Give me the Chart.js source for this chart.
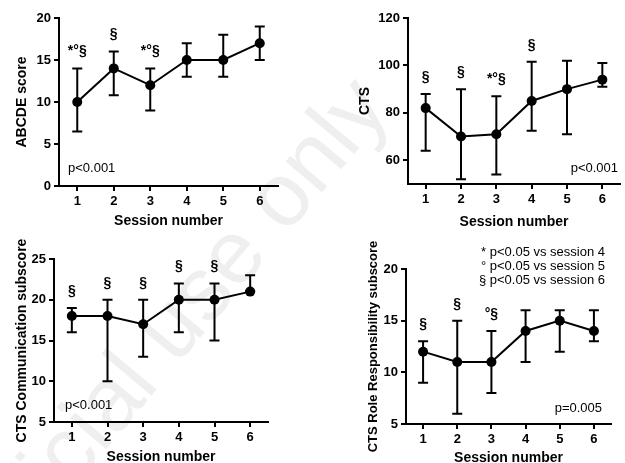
<!DOCTYPE html>
<html>
<head>
<meta charset="utf-8">
<script src="https://cdn.jsdelivr.net/npm/chart.js@4.4.1/dist/chart.umd.min.js"></script>
<style>
    body { margin: 0; background: #fff; }
    #page { position: relative; width: 625px; height: 463px; overflow: hidden; background: #fff; }
    #page canvas { position: absolute; }
    #watermark {
        position: absolute; left: 165px; top: 332px;
        transform: translate(-50%, -50%) rotate(-50deg);
        font: 90px "Liberation Sans", Arial, sans-serif;
        color: #efefef; white-space: nowrap;
    }
</style>
</head>
<body>
<div id="page">
    <div id="watermark">Official use only</div>
    <canvas id="abcdeChart" style="left:0;top:0" width="312" height="232"></canvas>
    <canvas id="ctsChart" style="left:312px;top:0" width="313" height="232"></canvas>
    <canvas id="commChart" style="left:0;top:230px" width="312" height="233"></canvas>
    <canvas id="roleChart" style="left:312px;top:230px" width="313" height="233"></canvas>
</div>
<script>
// sessions
const sessions = ['1', '2', '3', '4', '5', '6'];

// ABCDE score: median with range
const abcdeMedian = [10, 14, 12, 15, 15, 17];
const abcdeLow = [6.5, 10.8, 9, 13, 13, 15];
const abcdeHigh = [14, 16, 14, 17, 18, 19];
const abcdeMarks = ['*°§', '§', '*°§', '', '', ''];
const abcdeTicks = [0, 5, 10, 15, 20];

// CTS
const ctsMedian = [82, 70, 71, 85, 90, 94];
const ctsLow = [64, 52, 54, 72.5, 71, 91];
const ctsHigh = [88, 90, 87, 101.5, 102, 101];
const ctsMarks = ['§', '§', '*°§', '§', '', ''];
const ctsTicks = [60, 80, 100, 120];

// CTS Communication subscore
const commMedian = [18, 18, 17, 20, 20, 21];
const commLow = [16, 10, 13, 16, 15, 21];
const commHigh = [19, 20, 20, 22, 22, 23];
const commMarks = ['§', '§', '§', '§', '§', ''];
const commTicks = [5, 10, 15, 20, 25];

// CTS Role Responsibility subscore
const roleMedian = [12, 11, 11, 14, 15, 14];
const roleLow = [9, 6, 8, 11, 12, 13];
const roleHigh = [13, 15, 14, 16, 16, 16];
const roleMarks = ['§', '§', '°§', '', '', ''];
const roleTicks = [5, 10, 15, 20];

const legendLines = ['* p<0.05 vs session 4', '° p<0.05 vs session 5', '§ p<0.05 vs session 6'];

const FONT = '"Liberation Sans", Arial, Helvetica, sans-serif';

// error bars + significance marks + p value text
const extrasPlugin = {
    id: 'extras',
    beforeDatasetsDraw(chart) {
        const ex = chart.options.plugins.extras;
        const ctx = chart.ctx;
        const xs = chart.scales.x, ys = chart.scales.y;
        ctx.save();
        ctx.strokeStyle = '#000';
        ctx.lineWidth = 2;
        ex.low.forEach((lo, i) => {
            const x = xs.getPixelForValue(i);
            const y1 = ys.getPixelForValue(lo);
            const y2 = ys.getPixelForValue(ex.high[i]);
            ctx.beginPath();
            ctx.moveTo(x, y1); ctx.lineTo(x, y2);
            ctx.moveTo(x - 5, y1); ctx.lineTo(x + 5, y1);
            ctx.moveTo(x - 5, y2); ctx.lineTo(x + 5, y2);
            ctx.stroke();
        });
        ctx.restore();
    },
    afterDatasetsDraw(chart) {
        const ex = chart.options.plugins.extras;
        const ctx = chart.ctx;
        const xs = chart.scales.x, ys = chart.scales.y;
        const area = chart.chartArea;
        ctx.save();
        ctx.fillStyle = '#000';
        ctx.textAlign = 'center';
        ctx.textBaseline = 'middle';
        ctx.font = 'bold 14px ' + FONT;
        ex.marks.forEach((m, i) => {
            if (!m) return;
            ctx.fillText(m, xs.getPixelForValue(i), ys.getPixelForValue(ex.high[i]) - 17);
        });
        ctx.font = '13px ' + FONT;
        if (ex.pAlign === 'left') {
            ctx.textAlign = 'left';
            ctx.fillText(ex.pText, area.left + ex.pDx, area.bottom - ex.pDy);
        } else {
            ctx.textAlign = 'right';
            ctx.fillText(ex.pText, area.right - ex.pDx, area.bottom - ex.pDy);
        }
        if (ex.legend) {
            ctx.textAlign = 'right';
            ex.legend.forEach((t, i) => ctx.fillText(t, 293, 22 + i * 14));
        }
        ctx.restore();
    }
};

function makeChart(id, cfg) {
    const ctx = document.getElementById(id).getContext('2d');
    const canvasH = ctx.canvas.height;
    return new Chart(ctx, {
        type: 'line',
        data: {
            labels: sessions,
            datasets: [{
                data: cfg.median,
                borderColor: '#000',
                backgroundColor: '#000',
                borderWidth: 2,
                pointRadius: 5,
                pointBorderWidth: 0,
                tension: 0
            }]
        },
        options: {
            responsive: false,
            animation: false,
            layout: { padding: { left: 0, right: cfg.padRight, top: cfg.padTop, bottom: 0 } },
            plugins: {
                legend: { display: false },
                tooltip: { enabled: false },
                extras: {
                    low: cfg.low, high: cfg.high, marks: cfg.marks,
                    pText: cfg.pText, pAlign: cfg.pAlign, pDx: cfg.pDx, pDy: cfg.pDy,
                    legend: cfg.legend
                }
            },
            scales: {
                x: {
                    type: 'category',
                    offset: true,
                    afterFit: s => { s.height = canvasH - cfg.bottom; },
                    grid: { display: true, drawOnChartArea: false, color: '#000', lineWidth: 2, tickLength: 5 },
                    border: { color: '#000', width: 2 },
                    ticks: { color: '#000', padding: 3, font: { family: FONT, size: 13, weight: 'bold' } },
                    title: {
                        display: true, text: 'Session number', color: '#000',
                        font: { family: FONT, size: 14, weight: 'bold' },
                        padding: { top: 0, bottom: cfg.xTitlePad }
                    }
                },
                y: {
                    min: cfg.min, max: cfg.max,
                    afterBuildTicks: s => { s.ticks = cfg.ticks.map(v => ({ value: v })); },
                    afterFit: s => { s.width = cfg.left; },
                    grid: { display: true, drawOnChartArea: false, color: '#000', lineWidth: 2, tickLength: 5 },
                    border: { color: '#000', width: 2 },
                    ticks: { color: '#000', padding: 3, font: { family: FONT, size: 13, weight: 'bold' } },
                    title: {
                        display: true, text: cfg.yTitle, color: '#000',
                        font: { family: FONT, size: cfg.yTitleSize || 14, weight: 'bold' },
                        padding: { top: cfg.yTitlePad, bottom: 0 }
                    }
                }
            }
        },
        plugins: [extrasPlugin]
    });
}

makeChart('abcdeChart', {
    median: abcdeMedian, low: abcdeLow, high: abcdeHigh, marks: abcdeMarks, ticks: abcdeTicks,
    min: 0, max: 20, yTitle: 'ABCDE score',
    left: 59, padRight: 34, padTop: 18, bottom: 186,
    xTitlePad: 2.6, yTitlePad: 13.6,
    pText: 'p<0.001', pAlign: 'left', pDx: 9, pDy: 18
});

makeChart('ctsChart', {
    median: ctsMedian, low: ctsLow, high: ctsHigh, marks: ctsMarks, ticks: ctsTicks,
    min: 50, max: 120, yTitle: 'CTS',
    left: 96, padRight: 1, padTop: 18, bottom: 184,
    xTitlePad: 1.6, yTitlePad: 44.6,
    pText: 'p<0.001', pAlign: 'right', pDx: 2, pDy: 16
});

makeChart('commChart', {
    median: commMedian, low: commLow, high: commHigh, marks: commMarks, ticks: commTicks,
    min: 5, max: 25, yTitle: 'CTS Communication subscore',
    left: 54, padRight: 44, padTop: 29, bottom: 192,
    xTitlePad: -2.4, yTitlePad: 13.6,
    pText: 'p<0.001', pAlign: 'left', pDx: 11, pDy: 17
});

makeChart('roleChart', {
    median: roleMedian, low: roleLow, high: roleHigh, marks: roleMarks, ticks: roleTicks,
    min: 5, max: 20, yTitle: 'CTS Role Responsibility subscore', yTitleSize: 13,
    left: 94, padRight: 14, padTop: 39, bottom: 194,
    xTitlePad: -3.4, yTitlePad: 53.2,
    pText: 'p=0.005', pAlign: 'right', pDx: 9, pDy: 16,
    legend: legendLines
});
</script>
</body>
</html>
